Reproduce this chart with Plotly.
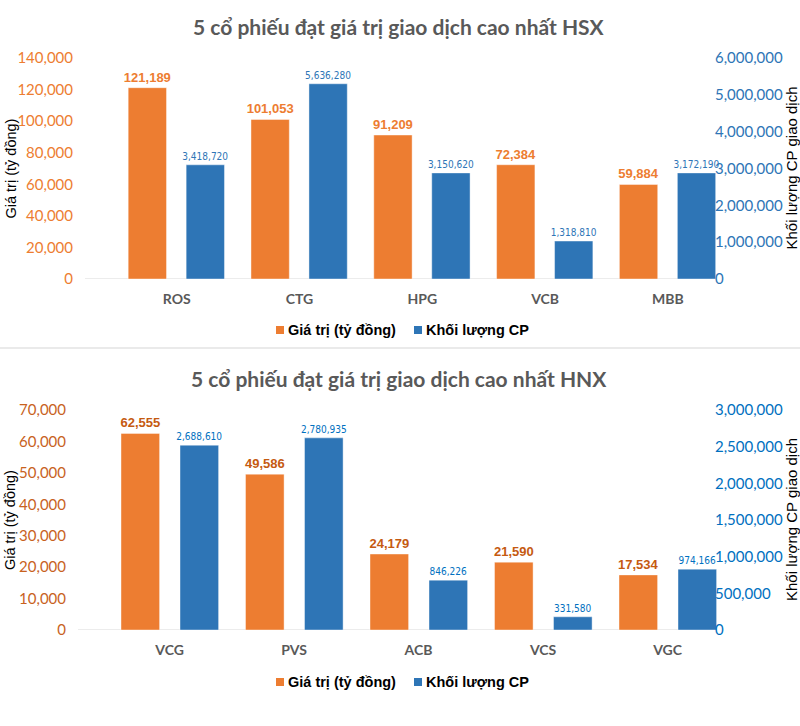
import plotly.graph_objects as go

# ---------------- data ----------------
hsx_codes = ["ROS", "CTG", "HPG", "VCB", "MBB"]
hsx_value = [121189, 101053, 91209, 72384, 59884]           # Giá trị (tỷ đồng)
hsx_volume_bar = [3100000, 5300000, 2880000, 1030000, 2880000]  # bar heights as drawn
hsx_volume_label = [3418720, 5636280, 3150620, 1318810, 3172190]  # printed labels

hnx_codes = ["VCG", "PVS", "ACB", "VCS", "VGC"]
hnx_value = [62555, 49586, 24179, 21590, 17534]
hnx_volume_bar = [2520000, 2620000, 680000, 180000, 830000]
hnx_volume_label = [2688610, 2780935, 846226, 331580, 974166]

title_hsx = "5 cổ phiếu đạt giá trị giao dịch cao nhất HSX"
title_hnx = "5 cổ phiếu đạt giá trị giao dịch cao nhất HNX"
name_value = "Giá trị (tỷ đồng)"
name_volume = "Khối lượng CP"
ytitle_left = "Giá trị (tỷ đồng)"
ytitle_right = "Khối lượng CP giao dịch"

# ---------------- styling ----------------
W, H = 800, 726
ORANGE = "#ED7D31"
BLUE = "#2E75B6"
ORANGE_D = "#C55A11"
BLUE_L = "#0070C0"
GRAY = "#595959"
COND = "DejaVu Sans Condensed, Liberation Sans, sans-serif"
BOLDNUM = "Liberation Sans, Arial, sans-serif"
NUM = "Lato, Open Sans, sans-serif"
ARIAL = "Liberation Sans, Arial, sans-serif"


def px(x):
    return x / W


def py(y):
    return 1 - y / H


fig = go.Figure()

def add_pair(codes, vals, vol_bar, vol_lab, xa, ya_l, ya_r, o_off, b_off, wid,
             o_col_txt, b_col_txt):
    fig.add_trace(go.Bar(
        x=codes, y=vals, xaxis=xa, yaxis=ya_l, name=name_value,
        marker=dict(color=ORANGE, line=dict(width=0.6, color="rgba(255,255,255,0.7)")),
        width=wid, offset=o_off,
        text=[f"{v:,}" for v in vals], textposition="outside",
        constraintext="none", cliponaxis=False,
        textfont=dict(family=BOLDNUM, size=13, color=o_col_txt, weight="bold"),
        showlegend=False, hoverinfo="skip"))
    fig.add_trace(go.Bar(
        x=codes, y=vol_bar, xaxis=xa, yaxis=ya_r, name=name_volume,
        marker=dict(color=BLUE, line=dict(width=0.6, color="rgba(255,255,255,0.7)")),
        width=wid, offset=b_off,
        text=[f"{v:,}" for v in vol_lab], textposition="outside",
        constraintext="none", cliponaxis=False,
        textfont=dict(family=COND, size=10, color=b_col_txt),
        showlegend=False, hoverinfo="skip"))

add_pair(hsx_codes, hsx_value, hsx_volume_bar, hsx_volume_label, "x", "y", "y2",
         -0.395, 0.077, 0.312, ORANGE, BLUE)
add_pair(hnx_codes, hnx_value, hnx_volume_bar, hnx_volume_label, "x2", "y3", "y4",
         -0.39, 0.084, 0.31, ORANGE_D, BLUE_L)

xcommon = dict(showline=False, showgrid=False, zeroline=False, ticks="",
               tickfont=dict(family=NUM, size=14, color=GRAY, weight="bold"),
               ticklabelstandoff=10, range=[-0.5, 4.5], fixedrange=True,
               automargin=False)
ycommon = dict(showline=False, showgrid=False, zeroline=False, ticks="",
               tickformat=",d", anchor="free", fixedrange=True,
               ticklabelstandoff=12, automargin=False)

fig.update_layout(
    width=W, height=H,
    margin=dict(l=0, r=0, t=0, b=0, autoexpand=False),
    paper_bgcolor="white", plot_bgcolor="rgba(0,0,0,0)",
    barmode="overlay",
    xaxis=dict(domain=[px(115.3), px(729.3)], anchor="y", **xcommon),
    xaxis2=dict(domain=[px(107.3), px(729.8)], anchor="y3", **xcommon),
    yaxis=dict(domain=[py(279), py(58)], range=[0, 140000], dtick=20000,
               position=px(85), side="left",
               tickfont=dict(family=NUM, size=15, color=ORANGE), **ycommon),
    yaxis2=dict(domain=[py(279), py(58)], range=[0, 6000000], dtick=1000000,
                overlaying="y", position=px(702), side="right",
                tickfont=dict(family=NUM, size=15, color=BLUE), **ycommon),
    yaxis3=dict(domain=[py(630), py(410)], range=[0, 70000], dtick=10000,
                position=px(78), side="left",
                tickfont=dict(family=NUM, size=15, color="#C8621E"), **ycommon),
    yaxis4=dict(domain=[py(630), py(410)], range=[0, 3000000], dtick=500000,
                overlaying="y3", position=px(702), side="right",
                tickfont=dict(family=NUM, size=15, color=BLUE_L), **ycommon),
)

shapes = [
    # baselines
    dict(type="line", xref="paper", yref="y", x0=px(85), x1=px(702), y0=0, y1=0,
         line=dict(color="#D9D9D9", width=1.2), layer="below"),
    dict(type="line", xref="paper", yref="y3", x0=px(78), x1=px(702), y0=0, y1=0,
         line=dict(color="#D9D9D9", width=1.2), layer="below"),
    # separator
    dict(type="line", xref="paper", yref="paper", x0=0, x1=1, y0=py(348), y1=py(348),
         line=dict(color="#E3E3E3", width=1.5)),
    # legend squares
    dict(type="rect", xref="paper", yref="paper", x0=px(276), x1=px(284),
         y0=py(334), y1=py(326), fillcolor=ORANGE, line=dict(width=0)),
    dict(type="rect", xref="paper", yref="paper", x0=px(414), x1=px(422),
         y0=py(334), y1=py(326), fillcolor=BLUE, line=dict(width=0)),
    dict(type="rect", xref="paper", yref="paper", x0=px(276), x1=px(284),
         y0=py(686), y1=py(678), fillcolor=ORANGE, line=dict(width=0)),
    dict(type="rect", xref="paper", yref="paper", x0=px(414), x1=px(422),
         y0=py(686), y1=py(678), fillcolor=BLUE, line=dict(width=0)),
]
fig.update_layout(shapes=shapes)

ann = []
for t, yc in [(title_hsx, 26), (title_hnx, 378)]:
    ann.append(dict(text=t, x=px(399), y=py(yc), xref="paper", yref="paper",
                    showarrow=False, xanchor="center", yanchor="middle",
                    font=dict(family=NUM, size=21, color=GRAY, weight="bold")))
for yc in [168.5, 520]:
    ann.append(dict(text=ytitle_left, x=px(10), y=py(yc), xref="paper", yref="paper",
                    showarrow=False, textangle=-90, xanchor="center", yanchor="middle",
                    font=dict(family=ARIAL, size=14.5, color="black")))
    ann.append(dict(text=ytitle_right, x=px(791), y=py(yc), xref="paper", yref="paper",
                    showarrow=False, textangle=-90, xanchor="center", yanchor="middle",
                    font=dict(family=ARIAL, size=15, color="black")))
for yc in [330, 682]:
    ann.append(dict(text=name_value, x=px(286), y=py(yc), xref="paper", yref="paper",
                    showarrow=False, xanchor="left", yanchor="middle",
                    font=dict(family=ARIAL, size=14.5, color="black", weight="bold")))
    ann.append(dict(text=name_volume, x=px(424), y=py(yc), xref="paper", yref="paper",
                    showarrow=False, xanchor="left", yanchor="middle",
                    font=dict(family=ARIAL, size=14.5, color="black", weight="bold")))
fig.update_layout(annotations=ann)

fig.write_html("out.html",
               config={"displayModeBar": False},
               post_script="document.body.style.margin='0';"
                           "document.body.style.overflow='hidden';")
